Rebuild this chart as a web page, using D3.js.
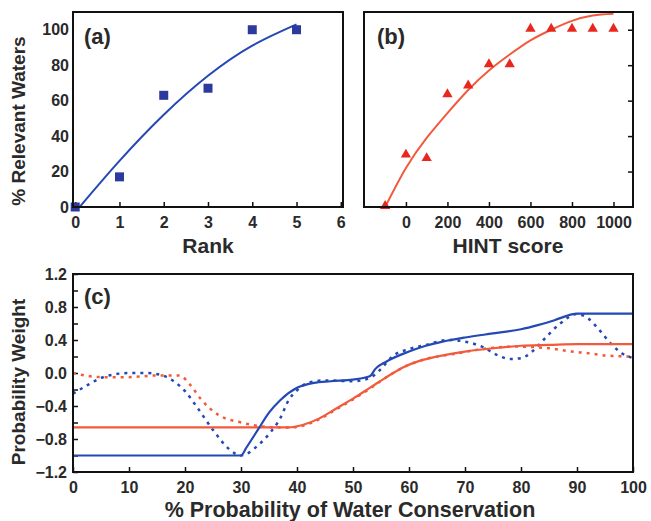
<!DOCTYPE html>
<html>
<head>
<meta charset="utf-8">
<script src="https://cdn.jsdelivr.net/npm/d3@7"></script>
<style>
  body { margin: 0; background: #fff; }
  text { font-family: "Liberation Sans", Arial, sans-serif; font-weight: bold; fill: #2a2a2a; }
  .domain { display: none; }
</style>
</head>
<body>
<script>
// panel (a): rank vs % relevant waters
var rank = [0, 1, 2, 3, 4, 5];
var rankPct = [0, 17, 63, 67, 100, 100];
var rankFitX = [0.1, 1, 2, 3, 4, 5];
var rankFitY = [0, 26, 52, 74, 91, 103];

// panel (b): HINT score vs % relevant waters
var hint = [-100, 0, 100, 200, 300, 400, 500, 600, 700, 800, 900, 1000];
var hintPct = [0, 29, 27, 63, 68, 80, 80, 100, 100, 100, 100, 100];
var hintFitX = [-100, 0, 100, 200, 300, 400, 500, 600, 700, 800, 900, 1000];
var hintFitY = [0, 22, 39, 53, 66, 77, 86, 94, 100, 105, 108, 109];

// panel (c): probability weight curves
var blueSolidX = [0, 30, 31, 33, 35, 37, 40, 43, 46, 50, 53, 54, 56, 60, 63, 66, 70, 75, 80, 83, 86, 88, 90, 100];
var blueSolidY = [-1.0, -1.0, -0.9, -0.69, -0.48, -0.33, -0.18, -0.12, -0.1, -0.08, -0.04, 0.05, 0.14, 0.26, 0.33, 0.38, 0.43, 0.48, 0.53, 0.58, 0.64, 0.69, 0.72, 0.72];
var blueDotX = [0, 2, 5, 8, 10, 13, 16, 18, 20, 22, 25, 28, 30, 31, 33, 35, 37, 38.5, 40, 42, 45, 50, 53, 55, 57, 60, 63, 67, 70, 73, 76, 78, 80, 82, 84, 87, 90, 92, 94, 96, 98, 100];
var blueDotY = [-0.25, -0.17, -0.06, -0.01, 0.0, 0.0, -0.03, -0.1, -0.22, -0.4, -0.69, -0.93, -1.0, -0.98, -0.88, -0.74, -0.55, -0.33, -0.21, -0.12, -0.09, -0.1, -0.06, 0.05, 0.2, 0.29, 0.34, 0.4, 0.38, 0.32, 0.21, 0.17, 0.18, 0.26, 0.4, 0.6, 0.715, 0.66, 0.52, 0.36, 0.24, 0.18];
var redSolidX = [0, 38.5, 41, 44, 47, 50, 53, 56, 59, 62, 65, 70, 75, 80, 85, 90, 100];
var redSolidY = [-0.66, -0.66, -0.63, -0.55, -0.43, -0.31, -0.18, -0.05, 0.07, 0.15, 0.2, 0.26, 0.3, 0.33, 0.34, 0.35, 0.35];
var redDotX = [0, 5, 10, 15, 19, 21, 23, 26, 30, 33, 36, 39, 41, 44, 47, 50, 53, 56, 59, 62, 66, 68, 72, 79, 85, 89, 92, 95.5, 100];
var redDotY = [0.0, -0.05, -0.05, -0.03, -0.03, -0.15, -0.33, -0.51, -0.6, -0.64, -0.66, -0.66, -0.64, -0.56, -0.44, -0.32, -0.19, -0.05, 0.07, 0.15, 0.21, 0.23, 0.28, 0.32, 0.3, 0.26, 0.24, 0.21, 0.2];

var pctTicks = [0, 20, 40, 60, 80, 100];
var rankTicks = [0, 1, 2, 3, 4, 5, 6];
var hintTicks = [0, 200, 400, 600, 800, 1000];
var weightTicks = [-1.2, -0.8, -0.4, 0.0, 0.4, 0.8, 1.2];

var blue = "#2448b4", blueMark = "#2c3a9e", red = "#f25a3c", redMark = "#e8281e";

var svg = d3.select("body").append("svg")
  .attr("width", 651)
  .attr("height", 521);

function frame(x0, x1, y0, y1) {
  svg.append("rect")
    .attr("x", x0).attr("y", y0)
    .attr("width", x1 - x0).attr("height", y1 - y0)
    .attr("fill", "none")
    .attr("stroke", "#111")
    .attr("stroke-width", 2);
}

function styleAxis(g) {
  g.selectAll(".tick line").attr("stroke", "#111").attr("stroke-width", 1.5);
  g.selectAll(".tick text").style("font-size", "16px");
}

// ---------- panel (a)
var xA = d3.scaleLinear().domain([-0.05, 6.05]).range([73, 343]);
var yA = d3.scaleLinear().domain([0, 110]).range([207, 12]);

svg.append("g")
  .attr("transform", "translate(0,207)")
  .call(d3.axisBottom(xA).tickValues(rankTicks).tickFormat(d3.format("d"))
    .tickSizeInner(-5).tickSizeOuter(0).tickPadding(10))
  .call(styleAxis);
svg.append("g")
  .attr("transform", "translate(73,0)")
  .call(d3.axisLeft(yA).tickValues(pctTicks).tickFormat(d3.format("d")).tickSize(0).tickPadding(4))
  .call(styleAxis);

var lineA = d3.line().x(d => xA(d[0])).y(d => yA(d[1])).curve(d3.curveNatural);
svg.append("path")
  .datum(d3.zip(rankFitX, rankFitY))
  .attr("d", lineA)
  .attr("fill", "none")
  .attr("stroke", blue)
  .attr("stroke-width", 2);

svg.selectAll(".sq")
  .data(d3.zip(rank, rankPct))
  .enter()
  .append("rect")
  .attr("x", d => xA(d[0]) - 4.5)
  .attr("y", d => yA(d[1]) - 4.5)
  .attr("width", 9)
  .attr("height", 9)
  .attr("fill", blueMark);

frame(73, 343, 12, 207);

svg.append("text").attr("x", 84).attr("y", 44).style("font-size", "22px").text("(a)");
svg.append("text").attr("x", 208).attr("y", 253).style("font-size", "21px")
  .style("text-anchor", "middle").text("Rank");
svg.append("text")
  .attr("transform", "translate(25,121) rotate(-90)")
  .style("font-size", "19px")
  .style("text-anchor", "middle")
  .text("% Relevant Waters");

// ---------- panel (b)
var xB = d3.scaleLinear().domain([-202, 1094]).range([364, 633]);
var yB = d3.scaleLinear().domain([0, 110]).range([207, 12]);

svg.append("g")
  .attr("transform", "translate(0,207)")
  .call(d3.axisBottom(xB).tickValues(hintTicks).tickFormat(d3.format("d"))
    .tickSizeInner(-5).tickSizeOuter(0).tickPadding(10))
  .call(styleAxis);
svg.append("g")
  .attr("transform", "translate(633,0)")
  .call(d3.axisRight(yB).tickValues(pctTicks.slice(1)).tickSizeInner(-5).tickSizeOuter(0).tickFormat(""))
  .call(styleAxis);

var lineB = d3.line().x(d => xB(d[0])).y(d => yB(d[1])).curve(d3.curveNatural);
svg.append("path")
  .datum(d3.zip(hintFitX, hintFitY))
  .attr("d", lineB)
  .attr("fill", "none")
  .attr("stroke", red)
  .attr("stroke-width", 2);

var tri = d3.symbol().type(d3.symbolTriangle).size(46);
svg.selectAll(".tri")
  .data(d3.zip(hint, hintPct))
  .enter()
  .append("path")
  .attr("d", tri)
  .attr("transform", d => `translate(${xB(d[0])},${yB(d[1]) - 1})`)
  .attr("fill", redMark);

frame(364, 633, 12, 207);

svg.append("text").attr("x", 377).attr("y", 44).style("font-size", "22px").text("(b)");
svg.append("text").attr("x", 508).attr("y", 253).style("font-size", "21px")
  .style("text-anchor", "middle").text("HINT score");

// ---------- panel (c)
var xC = d3.scaleLinear().domain([0, 100]).range([73, 633]);
var yC = d3.scaleLinear().domain([-1.2, 1.2]).range([472, 274]);

svg.append("g")
  .attr("transform", "translate(0,472)")
  .call(d3.axisBottom(xC).tickValues(d3.range(0, 101, 10)).tickSizeInner(-5).tickSizeOuter(0).tickPadding(10))
  .call(styleAxis);
svg.append("g")
  .attr("transform", "translate(73,0)")
  .call(d3.axisLeft(yC).tickValues(d3.range(-1.2, 1.21, 0.2)).tickSizeInner(-5).tickSizeOuter(0).tickFormat(""))
  .call(styleAxis);
svg.append("g")
  .attr("transform", "translate(73,0)")
  .call(d3.axisLeft(yC).tickValues(weightTicks).tickSize(0).tickPadding(6).tickFormat(d3.format(".1f")))
  .call(styleAxis);

var lineC = d3.line().x(d => xC(d[0])).y(d => yC(d[1])).curve(d3.curveMonotoneX);

function drawC(xs, ys, color, dashed) {
  svg.append("path")
    .datum(d3.zip(xs, ys))
    .attr("d", lineC)
    .attr("fill", "none")
    .attr("stroke", color)
    .attr("stroke-width", dashed ? 2.5 : 2.2)
    .attr("stroke-dasharray", dashed ? "3,5" : null);
}
drawC(redDotX, redDotY, red, true);
drawC(blueDotX, blueDotY, blue, true);
drawC(redSolidX, redSolidY, red, false);
drawC(blueSolidX, blueSolidY, blue, false);

frame(73, 633, 274, 472);

svg.append("text").attr("x", 84).attr("y", 304).style("font-size", "22px").text("(c)");
svg.append("text")
  .attr("transform", "translate(25,382) rotate(-90)")
  .style("font-size", "19px")
  .style("text-anchor", "middle")
  .text("Probability Weight");
svg.append("text").attr("x", 350).attr("y", 517).style("font-size", "21.5px")
  .style("text-anchor", "middle").text("% Probability of Water Conservation");
</script>
</body>
</html>
